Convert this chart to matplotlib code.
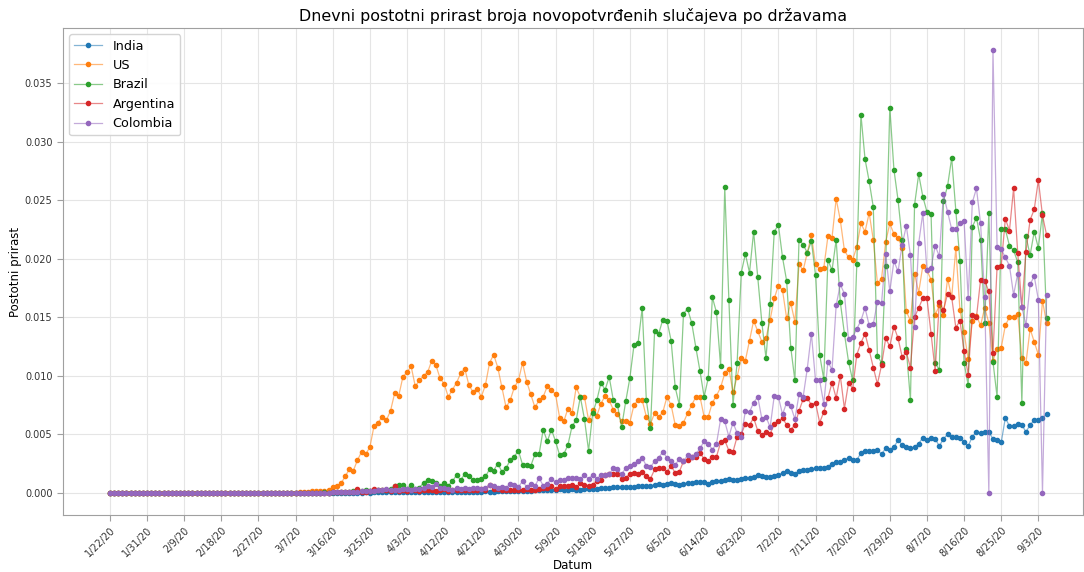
import pandas as pd
import matplotlib
matplotlib.use("Agg")
import matplotlib.pyplot as plt
from matplotlib.colors import to_rgba

# daily new cases as percent of population, 1/22/20 .. 9/5/20
early = [0.0, 0.0, 0.0, 0.0, 0.0, 0.0, 0.0, 0.0, 0.0, 0.0, 0.0, 0.0, 0.0, 0.0, 0.0,
         0.0, 0.0, 0.0, 0.0, 0.0, 0.0, 0.0, 0.0, 0.0, 0.0, 0.0, 0.0, 0.0, 0.0, 0.0,
         0.0, 0.0, 0.0, 0.0, 0.0, 0.0, 0.0, 0.0, 0.0, 0.0, 0.0, 0.0, 0.0, 0.0, 0.0]

india = early + [
    0.0, 0.0, 0.0, 0.0, 0.0, 0.00001, 0.00001, 0.00001, 0.00001, 0.00001,
    0.00001, 0.00002, 0.00002, 0.00002, 0.00002,
    0.00002, 0.00002, 0.00003, 0.00002, 0.00003, 0.00003, 0.00004, 0.00004, 0.00005, 0.00006,
    0.00005, 0.00004, 0.00006, 0.00005, 0.00004, 0.00005, 0.00006, 0.00006, 0.00007, 0.00006,
    0.00006, 0.00006, 0.00007, 0.00008, 0.00006, 0.00007, 0.00009, 0.00009, 0.00010, 0.00011,
    0.00011, 0.00013, 0.00011, 0.00011, 0.00013, 0.00014, 0.00015, 0.00012, 0.00012, 0.00013,
    0.00016, 0.00019, 0.00018, 0.00022, 0.00021, 0.00023, 0.00026,
    0.00024, 0.00025, 0.00029, 0.00027, 0.00028, 0.00031, 0.00028, 0.00028, 0.00029, 0.00036,
    0.00037, 0.00036, 0.00039, 0.00040, 0.00044, 0.00048, 0.00048, 0.00047, 0.00047, 0.00049,
    0.00053, 0.00055, 0.00057, 0.00059,
    0.00062, 0.00068, 0.00072, 0.00071, 0.00072, 0.00080, 0.00077,
    0.00071, 0.00079, 0.00085, 0.00085, 0.0009, 0.0009, 0.0009, 0.00079, 0.0009, 0.00102,
    0.00105, 0.00113, 0.00119, 0.00108, 0.00113, 0.00119, 0.00127, 0.0013, 0.00136, 0.0015,
    0.00142, 0.00136, 0.00136, 0.00142, 0.00156, 0.0017, 0.00184, 0.0017, 0.00164, 0.00184,
    0.00193, 0.00193,
    0.0020, 0.0021, 0.0021, 0.0021, 0.0022, 0.0025, 0.0026, 0.0026, 0.0028, 0.0030,
    0.0028, 0.0028, 0.0034, 0.0036, 0.0036, 0.0036, 0.0037, 0.0033, 0.0038, 0.0037,
    0.0039, 0.0045, 0.0041, 0.0039, 0.0038, 0.0039, 0.0042, 0.0047, 0.0045, 0.0047,
    0.0046, 0.0040, 0.0046, 0.0050, 0.0048, 0.0048, 0.0047, 0.0043, 0.0040, 0.0048,
    0.0052, 0.0051, 0.0052, 0.0052, 0.0046, 0.0045, 0.0043, 0.0064, 0.0057, 0.0057,
    0.0059, 0.0058, 0.0052, 0.0058, 0.0062, 0.0062, 0.0064, 0.0067]

us = early + [
    0.00002, 0.00003, 0.00004, 0.00006, 0.00012, 0.00013, 0.00016, 0.00018, 0.00020,
    0.0005, 0.00055, 0.0008, 0.0014, 0.0020, 0.0019, 0.0028, 0.0035, 0.0033, 0.0039,
    0.0057, 0.0060, 0.0065, 0.0062, 0.0070, 0.0085, 0.0083, 0.0099, 0.0103, 0.0108,
    0.0091, 0.0096, 0.0100, 0.0103,
    0.0113, 0.0109, 0.0098, 0.0093, 0.0082, 0.0088, 0.0094, 0.0102, 0.0106, 0.0092,
    0.0086, 0.0089, 0.0082, 0.0092, 0.0111, 0.0118, 0.0107, 0.0090, 0.0073, 0.0079,
    0.0090, 0.0096, 0.0111, 0.0095, 0.0084, 0.0073, 0.0079, 0.0082, 0.0091, 0.0088,
    0.0084, 0.0064,
    0.0061, 0.0072, 0.0068, 0.0090, 0.0082, 0.0082, 0.0062, 0.0071, 0.0066, 0.0076,
    0.0083, 0.0079, 0.0071, 0.0067, 0.0061, 0.0061, 0.0060, 0.0075, 0.0079, 0.0079,
    0.0065, 0.0059, 0.0068, 0.0065, 0.0069, 0.0082, 0.0075, 0.0058, 0.0057, 0.0060,
    0.0068,
    0.0075, 0.0082, 0.0082, 0.0065, 0.0065, 0.0077, 0.0083, 0.0090, 0.0102, 0.0106,
    0.0086, 0.0099, 0.0115, 0.0113, 0.0130, 0.0147, 0.0138, 0.0129, 0.0132, 0.0148,
    0.0166, 0.0177, 0.0173, 0.0149, 0.0162, 0.0146,
    0.0195, 0.0190, 0.0205, 0.0220, 0.0195, 0.0191, 0.0192, 0.0219, 0.0218, 0.0251,
    0.0233, 0.0207, 0.0201, 0.0199, 0.0210, 0.0230, 0.0223, 0.0239, 0.0216, 0.0179,
    0.0183, 0.0214, 0.0230, 0.0221, 0.0218, 0.0209, 0.0155, 0.0147, 0.0187, 0.0171,
    0.0194, 0.0190, 0.0182,
    0.0152, 0.0160, 0.0152, 0.0183, 0.0167, 0.0209, 0.0156, 0.0137, 0.0114, 0.0147,
    0.0151, 0.0143, 0.0158, 0.0145, 0.0113, 0.0123, 0.0124, 0.0143, 0.0150, 0.0150,
    0.0153, 0.0115, 0.0111, 0.0140, 0.0129, 0.0118, 0.0164, 0.0145]

brazil = early + [
    0.0, 0.0, 0.0, 0.0, 0.00001, 0.00001, 0.00002, 0.00003, 0.00002, 0.00004,
    0.00005, 0.00006, 0.00008, 0.00010, 0.00012, 0.00014, 0.00017, 0.00020, 0.00018, 0.00015,
    0.00024, 0.00020, 0.00026, 0.00030,
    0.00057, 0.00065, 0.00065, 0.00034, 0.00068, 0.00037, 0.00045, 0.00085, 0.0011, 0.0010,
    0.0008, 0.0006, 0.0008, 0.0006, 0.0010, 0.0015, 0.0011, 0.0016, 0.0014, 0.0011,
    0.0011, 0.0012, 0.0014, 0.0020, 0.0019, 0.0025, 0.0018, 0.0021, 0.0028,
    0.0031, 0.0036, 0.0024, 0.0024, 0.0023, 0.0033, 0.0033, 0.0054, 0.0044, 0.0054,
    0.0044, 0.0032,
    0.0033, 0.0041, 0.0057, 0.0062, 0.0082, 0.0063, 0.0036, 0.0068, 0.0079, 0.0094,
    0.0088, 0.0099, 0.0079, 0.0075, 0.0056, 0.0078, 0.0098, 0.0126, 0.0128, 0.0158,
    0.0079, 0.0055, 0.0138, 0.0136, 0.0148, 0.0147, 0.0130, 0.0090, 0.0075, 0.0153,
    0.0157,
    0.0145, 0.0124, 0.0104, 0.0082, 0.0098, 0.0167, 0.0154, 0.0108, 0.0261, 0.0165,
    0.0075, 0.0111, 0.0188, 0.0204, 0.0188, 0.0223, 0.0184, 0.0145, 0.0115, 0.0161,
    0.0223, 0.0229, 0.0201, 0.0181, 0.0124, 0.0096,
    0.0216, 0.0212, 0.0205, 0.0215, 0.0186, 0.0118, 0.0097, 0.0199, 0.0190, 0.0216,
    0.0163, 0.0136, 0.0112, 0.0096, 0.0195, 0.0323, 0.0285, 0.0266, 0.0244, 0.0117,
    0.0111, 0.0194, 0.0329, 0.0276, 0.0250, 0.0216, 0.0123, 0.0079, 0.0246, 0.0272,
    0.0253, 0.0240, 0.0238,
    0.0111, 0.0105, 0.0249, 0.0262, 0.0286, 0.0241, 0.0198, 0.0111, 0.0092, 0.0227,
    0.0235, 0.0216, 0.0145, 0.0239, 0.0112, 0.0082, 0.0225, 0.0225, 0.0211, 0.0207,
    0.0197, 0.0077, 0.0219, 0.0203, 0.0223, 0.0209, 0.0239, 0.0149]

argentina = early + [
    0.0, 0.0, 0.0, 0.0, 0.0, 0.00001, 0.00001, 0.00002, 0.00002, 0.00003,
    0.00005, 0.00003, 0.00004, 0.00007, 0.00010,
    0.00030, 0.00009, 0.00010, 0.00013, 0.00030, 0.00022, 0.00022, 0.00020, 0.00016, 0.00057,
    0.00012, 0.00020, 0.00018, 0.00020, 0.00022, 0.00018, 0.00020,
    0.00020, 0.00028, 0.00015, 0.00022, 0.00030, 0.00018, 0.00025, 0.00022, 0.00020, 0.00025,
    0.00022, 0.00028, 0.00025, 0.00030, 0.00022, 0.00068, 0.00035, 0.00030, 0.00022, 0.00025,
    0.00028, 0.00020, 0.00028, 0.00025, 0.00035, 0.00025, 0.00028, 0.00030, 0.00045, 0.00040,
    0.0006, 0.0003, 0.0006, 0.0006, 0.0006, 0.0007, 0.0005, 0.0008, 0.0007, 0.0006,
    0.0007, 0.0010, 0.0011, 0.0015, 0.0016, 0.0016, 0.0016, 0.0012, 0.0013, 0.0016,
    0.0017, 0.0016, 0.0018, 0.0014, 0.0012, 0.0020, 0.0021, 0.0021, 0.0018, 0.0023,
    0.0017, 0.0018, 0.0027, 0.0028,
    0.0031, 0.0031, 0.0034, 0.0029, 0.0027, 0.0031, 0.0031, 0.0043, 0.0045, 0.0036,
    0.0035, 0.0048, 0.0050, 0.0059, 0.0058, 0.0064, 0.0053, 0.0049, 0.0052, 0.0050,
    0.0059, 0.0061, 0.0064, 0.0058, 0.0054, 0.0058,
    0.0070, 0.0080, 0.0081, 0.0075, 0.0077, 0.0060, 0.0069, 0.0081, 0.0094, 0.0081,
    0.0100, 0.0072, 0.0094, 0.0089, 0.0118, 0.0128, 0.0136, 0.0122, 0.0107, 0.0093,
    0.0109, 0.0132, 0.0125, 0.0142, 0.0132, 0.0116, 0.0120, 0.0107, 0.0150, 0.0158,
    0.0166, 0.0166, 0.0136,
    0.0104, 0.0163, 0.0156, 0.0170, 0.0167, 0.0141, 0.0147, 0.0121, 0.0101, 0.0152,
    0.0150, 0.0182, 0.0181, 0.0172, 0.0119, 0.0193, 0.0194, 0.0234, 0.0224, 0.0260,
    0.0205, 0.0159, 0.0206, 0.0233, 0.0242, 0.0267, 0.0237, 0.0220]

colombia = early + [
    0.0, 0.0, 0.0, 0.0, 0.0, 0.0, 0.00001, 0.00002, 0.00002, 0.00003,
    0.00005, 0.00004, 0.00006, 0.00008, 0.00010,
    0.00010, 0.00012, 0.00015, 0.00018, 0.00016, 0.00020, 0.00025, 0.00030, 0.00022, 0.00028,
    0.00020, 0.00030, 0.00034, 0.00028, 0.00030, 0.00035, 0.00045,
    0.00062, 0.00050, 0.00079, 0.00042, 0.00042, 0.00034, 0.00028, 0.00042, 0.00034, 0.00042,
    0.00034, 0.00039, 0.00039, 0.00034, 0.00045, 0.00068, 0.00056, 0.00039, 0.00050, 0.00045,
    0.00073, 0.00068, 0.00050, 0.00099, 0.00050, 0.00073, 0.00056, 0.00127, 0.00062, 0.00079,
    0.0012, 0.0009, 0.0011, 0.0011, 0.0013, 0.0013, 0.0013, 0.0012, 0.0015, 0.0012,
    0.0015, 0.0012, 0.0015, 0.0015, 0.0016, 0.0021, 0.0020, 0.0016, 0.0021, 0.0023,
    0.0025, 0.0027, 0.0030, 0.0023, 0.0022, 0.0027, 0.0030, 0.0035, 0.0030, 0.0027,
    0.0024, 0.0029, 0.0027, 0.0032,
    0.0031, 0.0033, 0.0038, 0.0044, 0.0042, 0.0037, 0.0042, 0.0063, 0.0061, 0.0048,
    0.0060, 0.0051, 0.0048, 0.0070, 0.0069, 0.0077, 0.0082, 0.0063, 0.0065, 0.0056,
    0.0083, 0.0082, 0.0067, 0.0077, 0.0074, 0.0063,
    0.0084, 0.0082, 0.0106, 0.0136, 0.0096, 0.0096, 0.0076, 0.0112, 0.0105, 0.0160,
    0.0178, 0.0170, 0.0131, 0.0133, 0.0140, 0.0147, 0.0158, 0.0143, 0.0144, 0.0163,
    0.0162, 0.0204, 0.0172, 0.0198, 0.0189, 0.0212, 0.0228, 0.0203, 0.0142, 0.0213,
    0.0239, 0.0190, 0.0192,
    0.0211, 0.0202, 0.0255, 0.0240, 0.0225, 0.0225, 0.0230, 0.0232, 0.0166, 0.0248,
    0.0260, 0.0230, 0.0167, 0.0, 0.0378, 0.0210, 0.0208, 0.0201, 0.0194, 0.0169,
    0.0187, 0.0159, 0.0143, 0.0178, 0.0185, 0.0165, 0.0, 0.0169]

countries = ["India", "US", "Brazil", "Argentina", "Colombia"]
series = [india, us, brazil, argentina, colombia]
colors = ["#1f77b4", "#ff7f0e", "#2ca02c", "#d62728", "#9467bd"]

dates = pd.date_range("2020-01-22", periods=len(india))
date_labels = [f"{d.month}/{d.day}/{d.year % 100}" for d in dates]
days = list(range(len(dates)))

fig = plt.figure(figsize=(10.84, 5.72), dpi=100)
ax = fig.add_axes([0.058, 0.0997, 0.941, 0.8513])

for name, vals, col in zip(countries, series, colors):
    ax.plot(days, vals, color=to_rgba(col, 0.55), lw=0.9, marker="o", ms=3.0,
            mfc=col, mec=col, label=name)

ax.set_xlim(-11.4, 235.8)
ax.set_xticks(days[::9])
ax.set_xticklabels(date_labels[::9], rotation=45, ha="right", rotation_mode="anchor")

ax.grid(True, color="#e5e5e5", lw=0.8)
ax.set_axisbelow(True)
for sp in ax.spines.values():
    sp.set_color("#a0a0a0")
    sp.set_linewidth(0.8)
ax.tick_params(direction="out", length=4, color="#a0a0a0", labelsize=7.0, labelcolor="#333333")

ax.set_title("Dnevni postotni prirast broja novopotvrđenih slučajeva po državama", fontsize=11.4, pad=5)
ax.set_xlabel("Datum", fontsize=8.5, labelpad=0)
ax.set_ylabel("Postotni prirast", fontsize=8.5, labelpad=2)
ax.legend(loc="upper left", fontsize=9.2, framealpha=0.9, edgecolor="#d0d0d0",
          handlelength=2.2, borderaxespad=0.5)

plt.savefig("out.png", dpi=100)
plt.close()
